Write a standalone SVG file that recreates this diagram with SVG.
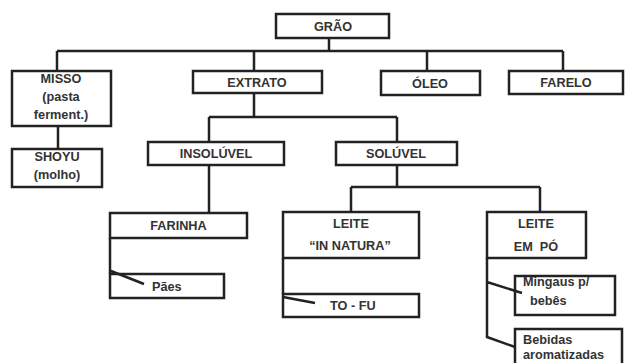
<svg xmlns="http://www.w3.org/2000/svg" width="625" height="363" viewBox="0 0 625 363">
<style>
.b{fill:#fff;stroke:#222;stroke-width:2.5}
.c{fill:none;stroke:#222;stroke-width:2.5}
text{font-family:"Liberation Sans",Arial,sans-serif;font-weight:bold;font-size:12.7px;fill:#333}
.m{text-anchor:middle}
</style>
<rect width="625" height="363" fill="#fff"/>
<g id="grao"><rect class="b" x="276" y="14" width="113" height="24"/><text class="m" x="333" y="30.5">GRÃO</text></g>
<g id="misso"><rect class="b" x="12" y="71" width="99" height="55"/><text class="m" x="61" y="83">MISSO</text><text class="m" x="61" y="101">(pasta</text><text class="m" x="61" y="119">ferment.)</text></g>
<g id="extrato"><rect class="b" x="193" y="71" width="129" height="22"/><text class="m" x="257" y="86.5">EXTRATO</text></g>
<g id="oleo"><rect class="b" x="381" y="71" width="99" height="24"/><text class="m" x="430" y="87.5">ÓLEO</text></g>
<g id="farelo"><rect class="b" x="509" y="71" width="114" height="23"/><text class="m" x="566" y="86.5">FARELO</text></g>
<g id="shoyu"><rect class="b" x="12" y="149" width="90" height="38"/><text class="m" x="57" y="161">SHOYU</text><text class="m" x="57" y="179">(molho)</text></g>
<g id="insoluvel"><rect class="b" x="148" y="142" width="136" height="23"/><text class="m" x="216" y="158">INSOLÚVEL</text></g>
<g id="soluvel"><rect class="b" x="336" y="142" width="121" height="23"/><text class="m" x="396" y="158">SOLÚVEL</text></g>
<g id="farinha"><rect class="b" x="110" y="213" width="137" height="25"/><text class="m" x="178.5" y="229.5">FARINHA</text></g>
<g id="paes"><rect class="b" x="110" y="274" width="114" height="24"/><text x="152" y="290.5">Pães</text></g>
<g id="leite-natura"><rect class="b" x="283" y="212" width="136" height="46"/><text class="m" x="351" y="227.5">LEITE</text><text class="m" x="350" y="250">“IN NATURA”</text></g>
<g id="tofu"><rect class="b" x="283" y="294" width="136" height="23"/><text x="330" y="309.5">TO - FU</text></g>
<g id="leite-po"><rect class="b" x="487" y="212" width="99" height="46"/><text class="m" x="536" y="228">LEITE</text><text class="m" x="536" y="251" xml:space="preserve">EM  PÓ</text></g>
<g id="mingaus"><rect class="b" x="515" y="276" width="100" height="39"/><text x="523" y="285.5">Mingaus p/</text><text x="530" y="305">bebês</text></g>
<g id="bebidas"><rect class="b" x="515" y="329" width="107" height="40"/><text x="523" y="343.5">Bebidas</text><text x="523" y="358.5">aromatizadas</text></g>
<g id="connectors">
<path class="c" d="M329 38V51M57 51H563M57 51V71M254 51V71M427 51V71M563 51V71"/>
<path class="c" d="M58 126V150"/>
<path class="c" d="M254 93V117M209 117H397M209 117V142M397 117V142"/>
<path class="c" d="M209 165V213"/>
<path class="c" d="M397 165V187M351 187H540M351 187V212M540 187V212"/>
<path class="c" d="M110 238V274M111 271L144 284"/>
<path class="c" d="M283 258V294M283 297L315 303"/>
<path class="c" d="M487 258V337L515 347M487 282L522 293"/>
</g>
</svg>
